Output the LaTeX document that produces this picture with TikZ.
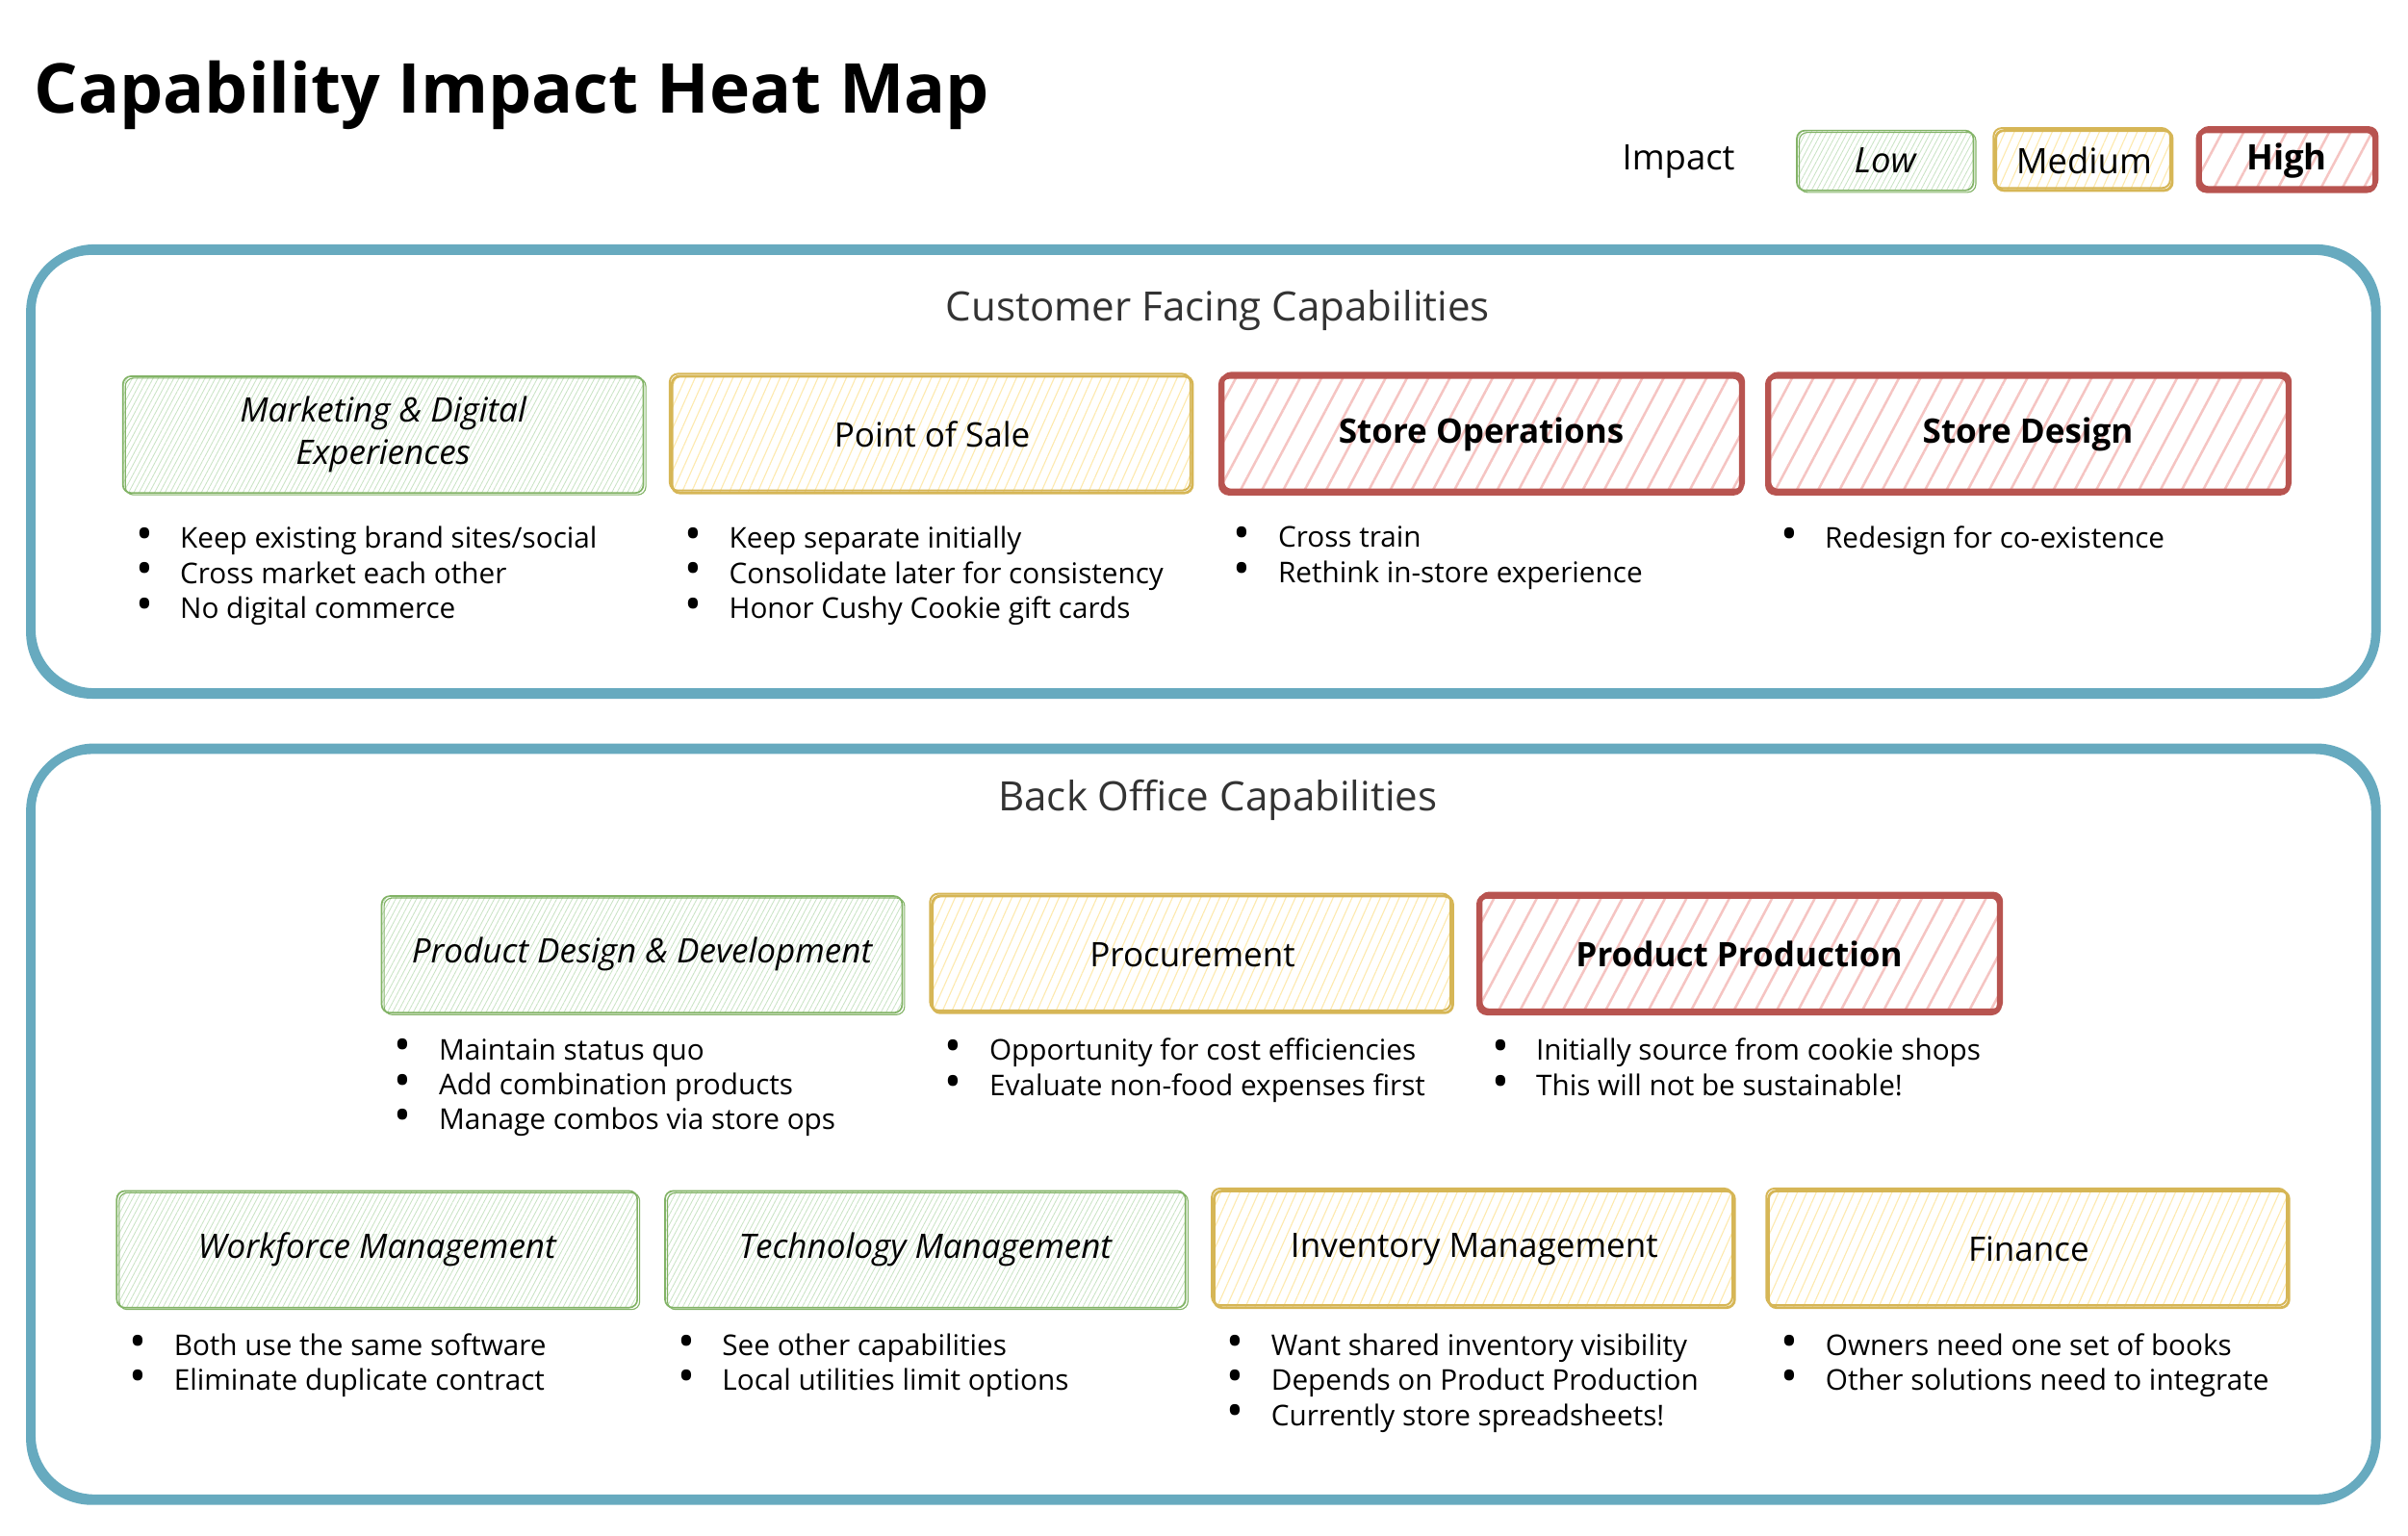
\documentclass[tikz,border=0pt]{standalone}
\usepackage{fontspec}
\setmainfont{Open Sans}
\usetikzlibrary{positioning,patterns.meta}

\definecolor{lowline}{HTML}{82B366}
\definecolor{lowfill}{HTML}{C9E3C4}
\definecolor{medline}{HTML}{D6B656}
\definecolor{medfill}{HTML}{FDE9AE}
\definecolor{highline}{HTML}{B85450}
\definecolor{highfill}{HTML}{F5C4C2}
\definecolor{groupline}{HTML}{67AABF}
\definecolor{headgray}{HTML}{333333}

\newcommand{\capitem}{\smash{\raisebox{-0.12ex}{\scalebox{1.6}{\textbullet}}}\hspace{0.95em}}

\tikzset{
  capbox/.style={minimum width=6.78cm, minimum height=1.52cm, outer sep=0pt,
    rounded corners=3pt, align=center, font=\fontsize{12.5}{15.5}\selectfont},
  legbox/.style={minimum width=2.3cm, minimum height=0.78cm, outer sep=0pt,
    rounded corners=3pt, font=\fontsize{13}{15}\selectfont},
  low/.style={draw=lowline, line width=0.6pt,
    pattern={Lines[angle=62,distance=1.7pt,line width=0.3pt]}, pattern color=lowfill,
    postaction={draw=lowline, line width=0.4pt, transform canvas={shift={(0.9pt,-0.7pt)}}},
    execute at begin node=\itshape},
  medium/.style={draw=medline, line width=1pt,
    pattern={Lines[angle=66,distance=3.2pt,line width=0.4pt]}, pattern color=medfill,
    postaction={draw=medline, line width=0.7pt, transform canvas={shift={(-0.8pt,0.9pt)}}}},
  high/.style={draw=highline, line width=1.9pt,
    pattern={Lines[angle=62,distance=7pt,line width=0.9pt]}, pattern color=highfill,
    postaction={draw=highline, line width=1.2pt, transform canvas={shift={(0.7pt,1pt)}}},
    execute at begin node=\bfseries},
  group/.style={draw=groupline, line width=3.4pt, rounded corners=0.8cm,
    postaction={draw=groupline, line width=2pt, transform canvas={shift={(0.8pt,1.2pt)}}}},
  heading/.style={text=headgray, font=\fontsize{15}{18}\selectfont},
  notes/.style={inner sep=0pt, align=left, font=\fontsize{10.6}{13}\selectfont}
}

\begin{document}
\begin{tikzpicture}[x=0.02cm, y=-0.02cm]
    \useasboundingbox (0,0) rectangle (1568,1000);

    % Title and legend
    \node[anchor=west, inner sep=0pt, font=\bfseries\fontsize{25.5}{30}\selectfont] (title) at (22,62) {Capability Impact Heat Map};
    \node[font=\fontsize{13}{15}\selectfont] (impact) at (1093,105) {Impact};
    \node[legbox, low] (leglow) at (1227.5,104.5) {Low};
    \node[legbox, medium] (legmed) at (1357,104.5) {Medium};
    \node[legbox, high] (leghigh) at (1489,104.5) {High};

    % Group frames
    \draw[group] (20,163) rectangle (1547,452);
    \draw[group] (20,488) rectangle (1547,977);
    \node[heading] (cfc) at (793,202) {Customer Facing Capabilities};
    \node[heading] (boc) at (793,521) {Back Office Capabilities};

    % Customer facing row
    \node[capbox, low] (mkt) at (249.5,283) {Marketing \& Digital\\Experiences};
    \node[capbox, medium] (pos) at (607,283) {Point of Sale};
    \node[capbox, high] (ops) at (964.5,283) {Store Operations};
    \node[capbox, high] (design) at (1320.5,283) {Store Design};

    \node[notes, below right=0.43cm and 0.16cm of mkt.south west] (mkt-notes)
        {\capitem Keep existing brand sites/social\\\capitem Cross market each other\\\capitem No digital commerce};
    \node[notes, below right=0.43cm and 0.16cm of pos.south west] (pos-notes)
        {\capitem Keep separate initially\\\capitem Consolidate later for consistency\\\capitem Honor Cushy Cookie gift cards};
    \node[notes, below right=0.43cm and 0.16cm of ops.south west] (ops-notes)
        {\capitem Cross train\\\capitem Rethink in-store experience};
    \node[notes, below right=0.43cm and 0.16cm of design.south west] (design-notes)
        {\capitem Redesign for co-existence};

    % Back office, first row
    \node[capbox, low] (pdd) at (418,621.5) {Product Design \& Development};
    \node[capbox, medium] (proc) at (776.5,621.5) {Procurement};
    \node[capbox, high] (prod) at (1132.5,621.5) {Product Production};

    \node[notes, below right=0.33cm and 0.16cm of pdd.south west] (pdd-notes)
        {\capitem Maintain status quo\\\capitem Add combination products\\\capitem Manage combos via store ops};
    \node[notes, below right=0.33cm and 0.16cm of proc.south west] (proc-notes)
        {\capitem Opportunity for cost efficiencies\\\capitem Evaluate non-food expenses first};
    \node[notes, below right=0.33cm and 0.16cm of prod.south west] (prod-notes)
        {\capitem Initially source from cookie shops\\\capitem This will not be sustainable!};

    % Back office, second row
    \node[capbox, low] (wfm) at (245.5,813.5) {Workforce Management};
    \node[capbox, low] (tech) at (602.5,813.5) {Technology Management};
    \node[capbox, medium] (inv) at (960,813.5) {Inventory Management};
    \node[capbox, medium] (fin) at (1321,813.5) {Finance};

    \node[notes, below right=0.33cm and 0.16cm of wfm.south west] (wfm-notes)
        {\capitem Both use the same software\\\capitem Eliminate duplicate contract};
    \node[notes, below right=0.33cm and 0.16cm of tech.south west] (tech-notes)
        {\capitem See other capabilities\\\capitem Local utilities limit options};
    \node[notes, below right=0.33cm and 0.16cm of inv.south west] (inv-notes)
        {\capitem Want shared inventory visibility\\\capitem Depends on Product Production\\\capitem Currently store spreadsheets!};
    \node[notes, below right=0.33cm and 0.16cm of fin.south west] (fin-notes)
        {\capitem Owners need one set of books\\\capitem Other solutions need to integrate};
\end{tikzpicture}
\end{document}
